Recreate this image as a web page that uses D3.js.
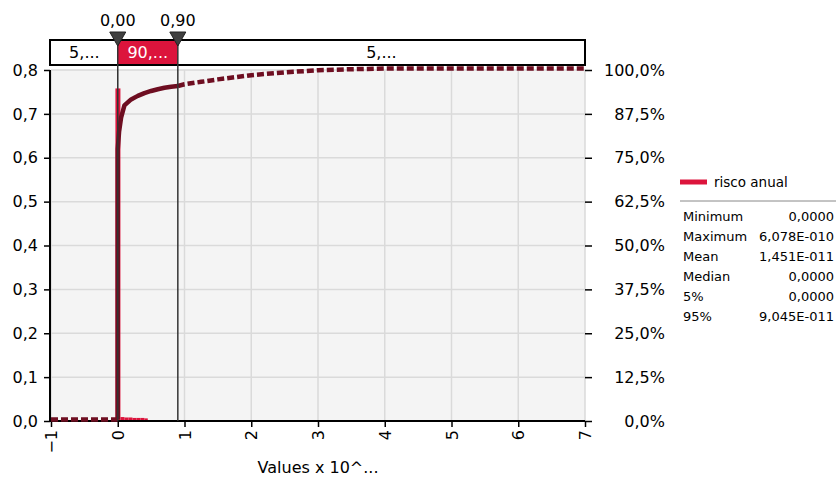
<!DOCTYPE html>
<html>
<head>
<meta charset="utf-8">
<script src="https://cdn.jsdelivr.net/npm/d3@7"></script>
<style>
  html, body { margin: 0; padding: 0; background: #fff; }
  svg { display: block; font-family: "DejaVu Sans", Verdana, sans-serif; }
</style>
</head>
<body>
<svg id="chart" width="838" height="477"></svg>
<script>
// Histogram bins (values x 10^-10) and their relative frequency
const binLo   = [-0.035, 0.04, 0.10, 0.16, 0.22, 0.28, 0.34, 0.40];
const binHi   = [ 0.04, 0.10, 0.16, 0.22, 0.28, 0.34, 0.40, 0.45];
const binProb = [0.758, 0.009, 0.008, 0.008, 0.007, 0.007, 0.007, 0.006];

// Cumulative distribution (ascending)
const cumX = [-1, 0, 0, 0.02, 0.05, 0.1, 0.2, 0.3, 0.4, 0.5, 0.6, 0.7, 0.8, 0.9,
              1.0, 1.25, 1.5, 1.75, 2.0, 2.5, 3.0, 3.5, 4.0, 5.0, 6.078, 7];
const cumP = [0, 0, 0.77, 0.82, 0.86, 0.895, 0.912, 0.922, 0.93, 0.936, 0.941, 0.945, 0.948, 0.95,
              0.955, 0.962, 0.969, 0.975, 0.981, 0.989, 0.995, 0.998, 1, 1, 1, 1];

// Delimiters and the probability bands between them
const delimiters = [0.00, 0.90];
const bandLabels = ["5,...", "90,...", "5,..."];

// Axis ticks
const xTicks = [-1, 0, 1, 2, 3, 4, 5, 6, 7];
const yTicks = [0, 0.1, 0.2, 0.3, 0.4, 0.5, 0.6, 0.7, 0.8];
const pTicks = [0, 0.125, 0.25, 0.375, 0.5, 0.625, 0.75, 0.875, 1];

// Legend and statistics
const seriesName = "risco anual";
const statNames  = ["Minimum", "Maximum", "Mean", "Median", "5%", "95%"];
const statValues = ["0,0000", "6,078E-010", "1,451E-011", "0,0000", "0,0000", "9,045E-011"];
const xTitle = "Values x 10^...";

const RED = "#dc143c";
const MAROON = "#6e0e21";

const loc = d3.formatLocale({decimal: ",", thousands: ".", grouping: [3], currency: ["", ""]});
const fmt1 = loc.format(".1f");
const fmt2 = loc.format(".2f");

const svg = d3.select("#chart");
const L = 51, R = 585, T = 70, B = 421;

const x = d3.scaleLinear().domain([-1, 7]).range([L, R]);
const y = d3.scaleLinear().domain([0, 0.8]).range([B, T]);
const p = d3.scaleLinear().domain([0, 1]).range([B, T]);

// plot background
svg.append("rect").attr("x", L).attr("y", T).attr("width", R - L).attr("height", B - T)
  .attr("fill", "#f4f4f4");

// grid
const grid = svg.append("g").attr("stroke", "#dadada").attr("stroke-width", 1.5);
grid.selectAll("line.v").data(xTicks).join("line").attr("class", "v")
  .attr("x1", d => x(d)).attr("x2", d => x(d)).attr("y1", T).attr("y2", B);
grid.selectAll("line.h").data(yTicks).join("line").attr("class", "h")
  .attr("x1", L).attr("x2", R).attr("y1", d => y(d)).attr("y2", d => y(d));

// histogram bars
svg.append("g").selectAll("rect").data(binProb).join("rect")
  .attr("x", (d, i) => x(binLo[i]))
  .attr("width", (d, i) => x(binHi[i]) - x(binLo[i]))
  .attr("y", d => y(d))
  .attr("height", d => B - y(d))
  .attr("fill", RED);

// axes
const axisL = svg.append("g").attr("transform", `translate(${L - 1},0)`)
  .call(d3.axisLeft(y).tickValues(yTicks).tickFormat(fmt1).tickSize(6).tickPadding(6));
const axisR = svg.append("g").attr("transform", `translate(${R},0)`)
  .call(d3.axisRight(p).tickValues(pTicks).tickFormat(d => fmt1(d * 100) + "%").tickSize(7).tickPadding(8));
axisR.select(".domain").remove();
axisR.selectAll("text").attr("text-anchor", "end").attr("x", 80);
const axisB = svg.append("g").attr("transform", `translate(0,${B})`)
  .call(d3.axisBottom(x).tickValues(xTicks).tickFormat(d3.format("d")).tickSize(6));
axisB.selectAll("text")
  .attr("transform", "rotate(-90)")
  .attr("text-anchor", "end")
  .attr("x", -9).attr("y", 0).attr("dy", "0.35em");

[axisL, axisR, axisB].forEach(g => {
  g.selectAll("text").attr("font-size", 16).attr("fill", "#000")
    .attr("font-family", "DejaVu Sans, Verdana, sans-serif");
  g.selectAll("line").attr("stroke", "#000").attr("stroke-width", 1.5);
  g.select(".domain").attr("stroke", "#000").attr("stroke-width", 2);
});
axisB.select(".domain").attr("d", `M${L - 1},0H${R}`);
axisL.select(".domain").attr("d", `M0,${T}V${B}`);

// cumulative curve: solid between delimiters, dashed outside
const pts = cumX.map((v, i) => [v, cumP[i]]);
const line = d3.line().x(d => x(d[0])).y(d => p(d[1]) - 1.5);
const i0 = cumX.indexOf(delimiters[0]);
const i1 = cumX.lastIndexOf(delimiters[1]);
const segs = [
  {data: pts.slice(0, i0 + 1), dash: "7,3"},
  {data: pts.slice(i0, i1 + 1), dash: null},
  {data: pts.slice(i1), dash: "7,3"}
];
svg.append("g").selectAll("path").data(segs).join("path")
  .attr("d", d => line(d.data))
  .attr("fill", "none")
  .attr("stroke", MAROON)
  .attr("stroke-width", 4.5)
  .attr("stroke-linejoin", "round")
  .attr("stroke-dasharray", d => d.dash);

svg.append("text").attr("x", (L + R) / 2).attr("y", 473).attr("text-anchor", "middle")
  .attr("font-size", 16).text(xTitle);

// delimiter bar
const bandTop = 40, bandBot = 65;
const edges = [x.domain()[0], ...delimiters, x.domain()[1]];
const bands = bandLabels.map((t, i) => ({t, a: edges[i], b: edges[i + 1], mid: i === 1}));
const bandG = svg.append("g");
bandG.selectAll("rect").data(bands).join("rect")
  .attr("x", d => x(d.a)).attr("width", d => x(d.b) - x(d.a))
  .attr("y", bandTop).attr("height", bandBot - bandTop)
  .attr("fill", d => d.mid ? RED : "#fff");
bandG.append("rect").attr("x", L - 1).attr("y", bandTop).attr("width", R - L + 1)
  .attr("height", bandBot - bandTop).attr("fill", "none").attr("stroke", "#000").attr("stroke-width", 2);
bandG.selectAll("text").data(bands).join("text")
  .attr("x", d => (x(d.a) + x(d.b)) / 2).attr("y", (bandTop + bandBot) / 2).attr("dy", "0.36em")
  .attr("text-anchor", "middle").attr("font-size", 16)
  .attr("fill", d => d.mid ? "#fff" : "#000").text(d => d.t);

// delimiter lines and markers
const dl = svg.append("g");
dl.selectAll("line").data(delimiters).join("line")
  .attr("x1", d => x(d)).attr("x2", d => x(d)).attr("y1", bandTop).attr("y2", B)
  .attr("stroke", "#333").attr("stroke-width", 1.5);
dl.selectAll("path").data(delimiters).join("path")
  .attr("d", d => `M${x(d) - 8},32H${x(d) + 8}L${x(d)},46Z`)
  .attr("fill", "#404040").attr("stroke", "#222").attr("stroke-width", 1);
dl.selectAll("text").data(delimiters).join("text")
  .attr("x", d => x(d)).attr("y", 20).attr("dy", "0.36em").attr("text-anchor", "middle")
  .attr("font-size", 16).text(d => fmt2(d));

// legend
const lg = svg.append("g");
lg.append("line").attr("x1", 680).attr("x2", 707).attr("y1", 182).attr("y2", 182)
  .attr("stroke", RED).attr("stroke-width", 5);
lg.append("text").attr("x", 714).attr("y", 182).attr("dy", "0.35em").attr("font-size", 13.5)
  .text(seriesName);
lg.append("line").attr("x1", 680).attr("x2", 836).attr("y1", 201).attr("y2", 201)
  .attr("stroke", "#888").attr("stroke-width", 1);
lg.selectAll("text.n").data(statNames).join("text").attr("class", "n")
  .attr("x", 683).attr("y", (d, i) => 216 + i * 20).attr("dy", "0.35em")
  .attr("font-size", 13).text(d => d);
lg.selectAll("text.v").data(statValues).join("text").attr("class", "v")
  .attr("x", 834).attr("y", (d, i) => 216 + i * 20).attr("dy", "0.35em")
  .attr("text-anchor", "end").attr("font-size", 13).text(d => d);
</script>
</body>
</html>
